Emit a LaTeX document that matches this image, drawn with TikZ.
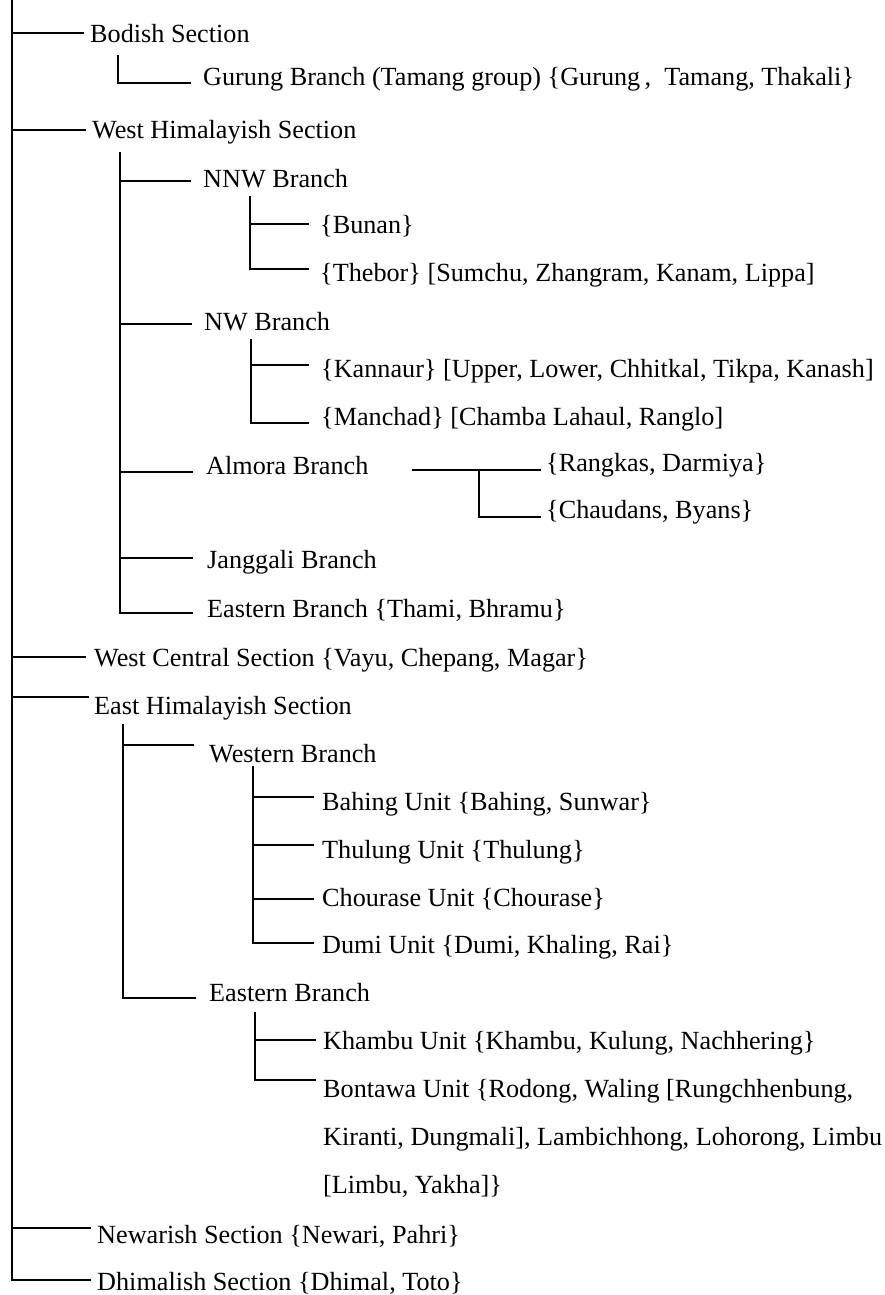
\documentclass[tikz,border=0pt]{standalone}
\usepackage{fontspec}
\setmainfont{Liberation Serif}
\begin{document}
\begin{tikzpicture}[x=1pt,y=-1pt,
  lbl/.style={anchor=base west, inner sep=0pt, font=\fontsize{26.2}{48}\selectfont},
  conn/.style={line width=2pt, line cap=rect}]
\useasboundingbox (0,0) rectangle (885,1295);
% main trunk
\coordinate (r0) at (12,0);
\coordinate (r1) at (12,1280);
\draw[conn] (r0) -- (r1);

% ---------- labels ----------
\node[lbl] (bod) at (90,43) {Bodish Section};
\node[lbl] (gur) at (203,86) {Gurung Branch (Tamang group) \{Gurung\,,\ \ Tamang, Thakali\}};
\node[lbl] (wh) at (92,139) {West Himalayish Section};
\node[lbl] (nnw) at (203,187) {NNW Branch};
\node[lbl] (bun) at (320,233) {\{Bunan\}};
\node[lbl] (theb) at (320,281) {\{Thebor\} [Sumchu, Zhangram, Kanam, Lippa]};
\node[lbl] (nw) at (204,330) {NW Branch};
\node[lbl] (kan) at (321,377) {\{Kannaur\} [Upper, Lower, Chhitkal, Tikpa, Kanash]};
\node[lbl] (man) at (321,425) {\{Manchad\} [Chamba Lahaul, Ranglo]};
\node[lbl] (alm) at (206,474) {Almora Branch};
\node[lbl] (ran) at (546,471) {\{Rangkas, Darmiya\}};
\node[lbl] (cha) at (546,518) {\{Chaudans, Byans\}};
\node[lbl] (jan) at (207,568) {Janggali Branch};
\node[lbl] (eas) at (207,617) {Eastern Branch \{Thami, Bhramu\}};
\node[lbl] (wc) at (94,666) {West Central Section \{Vayu, Chepang, Magar\}};
\node[lbl] (eh) at (94,714) {East Himalayish Section};
\node[lbl] (web) at (209,762) {Western Branch};
\node[lbl] (bah) at (322,810) {Bahing Unit \{Bahing, Sunwar\}};
\node[lbl] (thu) at (322,858) {Thulung Unit \{Thulung\}};
\node[lbl] (cho) at (322,906) {Chourase Unit \{Chourase\}};
\node[lbl] (dum) at (322,953) {Dumi Unit \{Dumi, Khaling, Rai\}};
\node[lbl] (eab) at (209,1001) {Eastern Branch};
\node[lbl] (kha) at (323,1049) {Khambu Unit \{Khambu, Kulung, Nachhering\}};
\node[lbl] (bon) at (323,1097) {Bontawa Unit \{Rodong, Waling [Rungchhenbung,};
\node[lbl] (bon2) at (323,1145) {Kiranti, Dungmali], Lambichhong, Lohorong, Limbu};
\node[lbl] (bon3) at (323,1193) {[Limbu, Yakha]\}};
\node[lbl] (new) at (97,1243) {Newarish Section \{Newari, Pahri\}};
\node[lbl] (dhi) at (97,1290) {Dhimalish Section \{Dhimal, Toto\}};

% ---------- connector end points ----------
\coordinate (bodE) at (83,33);
\coordinate (whE) at (85,130);
\coordinate (wcE) at (85,657);
\coordinate (ehE) at (88,697);
\coordinate (newE) at (90,1228);
\coordinate (dhiE) at (90,1280);
\draw[conn] (r0 |- bodE) -- (bodE);
\draw[conn] (r0 |- whE) -- (whE);
\draw[conn] (r0 |- wcE) -- (wcE);
\draw[conn] (r0 |- ehE) -- (ehE);
\draw[conn] (r0 |- newE) -- (newE);
\draw[conn] (r0 |- dhiE) -- (dhiE);

% Bodish sub
\coordinate (bT) at (118,56);
\coordinate (gurE) at (190,83);
\draw[conn] (bT) |- (gurE);

% West Himalayish trunk
\coordinate (whT) at (120,153);
\coordinate (nnwE) at (190,181);
\coordinate (nwE) at (191,324);
\coordinate (almE) at (192,472);
\coordinate (janE) at (192,558);
\coordinate (easE) at (192,613);
\draw[conn] (whT) |- (easE);
\draw[conn] (whT |- nnwE) -- (nnwE);
\draw[conn] (whT |- nwE) -- (nwE);
\draw[conn] (whT |- almE) -- (almE);
\draw[conn] (whT |- janE) -- (janE);

% NNW sub
\coordinate (nnwT) at (250,197);
\coordinate (bunE) at (308,224);
\coordinate (thebE) at (308,269);
\draw[conn] (nnwT) |- (thebE);
\draw[conn] (nnwT |- bunE) -- (bunE);

% NW sub
\coordinate (nwT) at (251,340);
\coordinate (kanE) at (308,365);
\coordinate (manE) at (308,423);
\draw[conn] (nwT) |- (manE);
\draw[conn] (nwT |- kanE) -- (kanE);

% Almora sub
\coordinate (almS) at (413,470);
\coordinate (ranE) at (540,470);
\coordinate (almJ) at (479,470);
\coordinate (chaE) at (540,517);
\draw[conn] (almS) -- (ranE);
\draw[conn] (almJ) |- (chaE);

% East Himalayish trunk
\coordinate (ehT) at (123,725);
\coordinate (webE) at (193,745);
\coordinate (eabE) at (195,998);
\draw[conn] (ehT) |- (eabE);
\draw[conn] (ehT |- webE) -- (webE);

% Western Branch sub
\coordinate (webT) at (253,767);
\coordinate (bahE) at (313,797);
\coordinate (thuE) at (313,845);
\coordinate (choE) at (313,899);
\coordinate (dumE) at (313,943);
\draw[conn] (webT) |- (dumE);
\draw[conn] (webT |- bahE) -- (bahE);
\draw[conn] (webT |- thuE) -- (thuE);
\draw[conn] (webT |- choE) -- (choE);

% Eastern Branch sub
\coordinate (eabT) at (255,1013);
\coordinate (khaE) at (315,1040);
\coordinate (bonE) at (315,1080);
\draw[conn] (eabT) |- (bonE);
\draw[conn] (eabT |- khaE) -- (khaE);
\end{tikzpicture}
\end{document}
